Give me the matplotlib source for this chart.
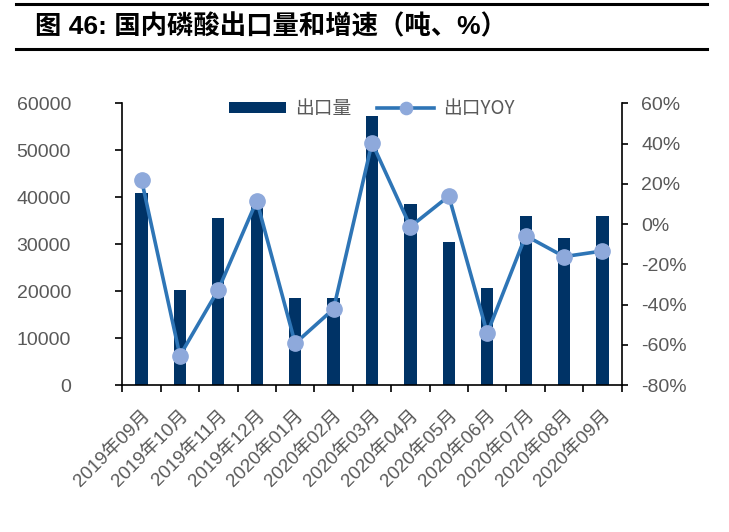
import numpy as np
import matplotlib
matplotlib.use("Agg")
from matplotlib import pyplot as plt
from matplotlib.lines import Line2D

plt.rcParams['font.family'] = ['Liberation Sans', 'Noto Sans CJK SC', 'DejaVu Sans']
plt.rcParams['axes.unicode_minus'] = False

months = ['2019年09月', '2019年10月', '2019年11月', '2019年12月', '2020年01月',
          '2020年02月', '2020年03月', '2020年04月', '2020年05月', '2020年06月',
          '2020年07月', '2020年08月', '2020年09月']
export_t = [41000, 20200, 35600, 39000, 18500, 18500, 57300,
            38500, 30400, 20600, 36000, 31400, 35900]
export_yoy = [22.0, -65.4, -32.6, 11.6, -59.3, -42.2, 40.4,
              -1.3, 13.9, -54.3, -5.8, -16.2, -13.4]
left_ticks = [0, 10000, 20000, 30000, 40000, 50000, 60000]
right_ticks = [-80, -60, -40, -20, 0, 20, 40, 60]

BAR = '#003366'
LINE = '#2E75B6'
MARK = '#8EA9DB'
GREY = '#595959'

fig = plt.figure(figsize=(7.29, 5.32), dpi=100)

# title block with two rules
fig.text(35 / 729, 1 - 27 / 532, '图 46: 国内磷酸出口量和增速（吨、%）',
         fontsize=19, fontweight='bold', va='center', ha='left',
         family=['Liberation Sans', 'Noto Sans CJK SC'])
fig.add_artist(Line2D([16 / 729, 707 / 729], [1 - 3.5 / 532] * 2, color='black', lw=2.2))
fig.add_artist(Line2D([16 / 729, 707 / 729], [1 - 48.5 / 532] * 2, color='black', lw=2.2))

ax = fig.add_axes([122.3 / 729, 1 - 385 / 532, 499.4 / 729, 281.7 / 532])
x = np.arange(len(months))
bars = ax.bar(x, export_t, width=0.32, color=BAR, label='出口量', zorder=2)
ax.set_xlim(-0.5, len(months) - 0.5)
ax.set_ylim(0, 60000)
ax.set_yticks(left_ticks)
ax.set_yticklabels([str(v) for v in left_ticks])

ax.set_xticks(x)
ax.set_xticklabels(months, rotation=45, ha='right', va='top', rotation_mode='anchor',
                   fontsize=13.5, color=GREY)
ax.set_xticks(np.arange(-0.5, len(months)), minor=True)
ax.tick_params(axis='x', which='major', length=0, pad=16)
ax.tick_params(axis='x', which='minor', length=5, width=1.2, direction='out')
ax.tick_params(axis='y', length=5, width=1.2, direction='out', labelsize=14,
               labelcolor=GREY, pad=32)

for s in ['top', 'right']:
    ax.spines[s].set_visible(False)
for s in ['left', 'bottom']:
    ax.spines[s].set_linewidth(1.2)

ax2 = ax.twinx()
line, = ax2.plot(x, export_yoy, color=LINE, lw=2.6, marker='o', markersize=11,
                 markerfacecolor=MARK, markeredgecolor=MARK, label='出口YOY', zorder=3)
ax2.set_ylim(-80, 60)
ax2.set_yticks(right_ticks)
ax2.set_yticklabels(['%d%%' % v for v in right_ticks])
ax2.tick_params(axis='y', length=4, width=1.2, direction='out', labelsize=14,
                labelcolor=GREY, pad=10)
for s in ['top', 'left', 'bottom']:
    ax2.spines[s].set_visible(False)
ax2.spines['right'].set_linewidth(1.2)

leg = ax2.legend([bars, line], ['出口量', '出口YOY'], loc='center',
                 bbox_to_anchor=(0.5, 0.9815), ncol=2, frameon=False,
                 fontsize=13.5, handlelength=3.0, handleheight=0.55,
                 handletextpad=0.5, columnspacing=1.4, markerscale=0.8)
for t in leg.get_texts():
    t.set_color(GREY)
    t.set_family(['Noto Sans CJK SC', 'DejaVu Sans'])

fig.savefig('out.png', dpi=100)
